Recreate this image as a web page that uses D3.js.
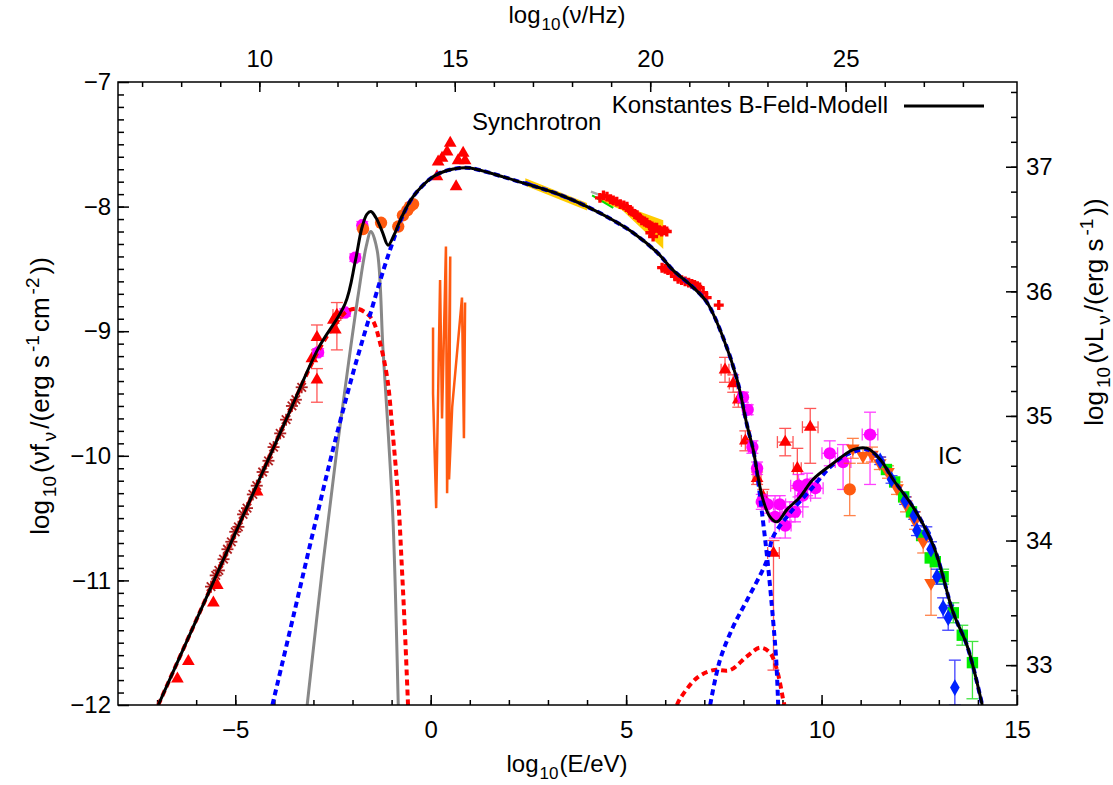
<!DOCTYPE html>
<html>
<head>
<meta charset="utf-8">
<script src="https://cdn.jsdelivr.net/npm/d3@7"></script>
<style>
  body { margin: 0; background: #fff; }
  svg { font-family: "Liberation Sans", Arial, sans-serif; }
</style>
</head>
<body>
<svg id="chart" width="1113" height="785"></svg>
<script>
// ---- Achsen ----
const xMajor = [-5, 0, 5, 10, 15];          // log10(E/eV)
const yMajor = [-7, -8, -9, -10, -11, -12]; // log10(nu f_nu)
const nuMajor = [10, 15, 20, 25];           // log10(nu/Hz)
const lumMajor = [33, 34, 35, 36, 37];      // log10(nu L_nu)
const nuOffset = 14.384;   // log10(Hz pro eV)
const lumOffset = 44.68;   // log10(4 pi d^2)

// ---- Modellkurven [logE, logF] ----
const totalModel = [
  [-6.97,-12.0],[-5.90,-11.25],[-4.54,-10.30],[-3.60,-9.64],[-2.88,-9.14],[-2.19,-8.78],
  [-1.93,-8.44],[-1.76,-8.17],[-1.63,-8.06],[-1.53,-8.04],[-1.40,-8.09],[-1.24,-8.20],
  [-1.09,-8.31],[-0.94,-8.23],[-0.78,-8.11],[-0.45,-7.92],[0.06,-7.76],[0.42,-7.71],
  [0.75,-7.69],[1.01,-7.69],[1.52,-7.73],[2.36,-7.81],[3.18,-7.89],[4.00,-8.00],
  [4.67,-8.11],[5.18,-8.21],[5.80,-8.37],[6.20,-8.51],[6.72,-8.65],[7.07,-8.77],
  [7.48,-9.05],[7.84,-9.39],[8.09,-9.75],[8.25,-9.95],[8.38,-10.18],[8.50,-10.35],
  [8.68,-10.49],[8.86,-10.53],[9.12,-10.43],[9.45,-10.33],[9.78,-10.19],[10.30,-10.06],
  [10.81,-9.95],[11.17,-9.94],[11.50,-10.03],[11.83,-10.19],[12.34,-10.41],[12.86,-10.72],
  [13.37,-11.26],[13.73,-11.53],[14.11,-12.0]
];
const synchModel = [
  [-4.05,-12.0],[-3.50,-11.27],[-3.00,-10.60],[-2.50,-9.95],[-2.00,-9.35],[-1.60,-8.92],
  [-1.20,-8.50],[-0.90,-8.22],[-0.78,-8.12],[-0.45,-7.92],[0.06,-7.76],[0.42,-7.71],
  [0.75,-7.69],[1.01,-7.69],[1.52,-7.73],[2.36,-7.81],[3.18,-7.89],[4.00,-8.00],
  [4.67,-8.11],[5.18,-8.21],[5.80,-8.37],[6.20,-8.51],[6.72,-8.65],[7.07,-8.77],
  [7.48,-9.05],[7.84,-9.39],[8.09,-9.75],[8.25,-9.95],[8.35,-10.14],[8.50,-10.52],
  [8.63,-10.88],[8.76,-11.32],[8.84,-11.64],[8.89,-12.0]
];
const icModel = [
  [7.15,-12.0],[7.40,-11.64],[7.74,-11.37],[8.09,-11.16],[8.60,-10.84],[8.76,-10.65],
  [9.19,-10.46],[9.78,-10.25],[10.22,-10.09],[10.65,-9.99],[11.17,-9.95],[11.50,-10.03],
  [11.83,-10.19],[12.34,-10.41],[12.86,-10.72],[13.37,-11.26],[13.73,-11.53],[14.11,-12.0]
];
const relicSynch = [
  [-6.97,-12.0],[-5.90,-11.25],[-4.54,-10.30],[-3.60,-9.64],[-2.88,-9.16],[-2.50,-8.97],
  [-2.14,-8.84],[-1.88,-8.82],[-1.63,-8.86],[-1.47,-8.92],[-1.29,-9.10],[-1.11,-9.38],
  [-0.98,-9.79],[-0.83,-10.35],[-0.74,-10.88],[-0.66,-11.40],[-0.58,-12.0]
];
const relicIC = [
  [6.30,-12.0],[6.38,-11.95],[6.82,-11.78],[7.23,-11.72],[7.66,-11.72],[8.09,-11.61],
  [8.43,-11.54],[8.68,-11.58],[8.86,-11.72],[9.02,-11.96],[9.05,-12.0]
];
const dustBump = [
  [-3.16,-12.0],[-2.75,-10.85],[-2.40,-9.95],[-2.10,-9.25],[-1.85,-8.70],[-1.65,-8.32],
  [-1.53,-8.20],[-1.37,-8.35],[-1.22,-9.15],[-1.08,-9.85],[-0.96,-10.55],[-0.83,-12.0]
];
const uvJagged = [
  [0.06,-8.97],[0.06,-9.50],[0.14,-10.42],[0.24,-8.59],[0.29,-9.70],[0.39,-8.32],
  [0.42,-10.30],[0.50,-8.40],[0.47,-10.19],[0.55,-9.61],[0.80,-8.73],[0.85,-9.86],[0.88,-8.77]
];

// ---- Fehlerbänder (Röntgen) ----
const xrayBand1 = [[2.42,-7.772],[4.00,-7.972],[4.00,-8.032],[2.42,-7.832]];
const xrayLine1 = [[2.42,-7.80],[4.00,-8.00]];
const xrayBand2 = [[4.30,-7.93],[4.90,-7.99],[5.95,-8.11],[5.95,-8.34],[4.90,-8.03],[4.30,-7.95]];
const xrayGreen = [[4.13,-7.91],[4.67,-8.01]];
const xrayGray = [[4.10,-7.88],[4.35,-7.91]];

// ---- Messpunkte [logE, logF, dyLo, dyHi, dx] ----
const radioStars = [
  [-5.62,-11.05],[-5.50,-10.96],[-5.42,-10.92],[-5.30,-10.83],[-5.20,-10.75],[-5.10,-10.69],
  [-5.00,-10.61],[-4.92,-10.57],[-4.80,-10.47],[-4.70,-10.42],[-4.55,-10.31],[-4.45,-10.24],
  [-4.30,-10.13],[-4.15,-10.04],[-4.02,-9.93],[-3.85,-9.82],[-3.70,-9.71],[-3.55,-9.60],
  [-3.45,-9.55],[-3.30,-9.45]
];
const redTriangles = [
  [-6.48,-11.79,0,0,0],[-6.20,-11.65,0,0,0],[-5.56,-11.18,0,0,0],[-5.46,-11.04,0,0,0],
  [-4.44,-10.29,0,0,0],[-3.04,-9.22,0,0,0],[-2.91,-9.05,0.10,0.10,0],[-2.91,-9.39,0.18,0.09,0],
  [-2.49,-8.91,0,0,0],[-2.40,-8.87,0.28,0.10,0.1],[-2.44,-8.99,0,0,0],
  [0.50,-7.49,0,0,0],[0.42,-7.56,0,0,0],[0.29,-7.61,0,0,0],[0.19,-7.64,0,0,0],[0.16,-7.76,0,0,0],
  [0.83,-7.57,0,0,0],[0.88,-7.63,0,0,0],[0.70,-7.63,0,0,0],[0.65,-7.84,0,0,0],
  [7.53,-9.31,0.10,0.10,0.1],[7.74,-9.42,0.07,0.07,0.1],[7.87,-9.55,0.06,0.06,0.1],
  [8.05,-9.88,0.08,0.08,0.1],[8.35,-10.18,0.05,0.05,0.1],[8.51,-10.33,0.06,0.06,0.1],
  [8.77,-10.78,0.94,0.10,0.15],[9.07,-9.89,0.11,0.11,0.2],[9.71,-9.77,0.29,0.15,0.2],
  [9.38,-10.10,0.16,0.16,0.1]
];
const xrayCrosses = [
  [4.33,-7.93],[4.42,-7.91],[4.51,-7.92],[4.60,-7.94],[4.67,-7.95],[4.76,-7.96],[4.85,-7.98],
  [4.94,-7.99],[5.02,-8.00],[5.09,-8.03],[5.15,-8.04],[5.22,-8.06],[5.28,-8.07],[5.34,-8.09],
  [5.40,-8.11],[5.47,-8.12],[5.53,-8.13],[5.60,-8.15],[5.66,-8.16],[5.72,-8.17],[5.78,-8.17],
  [5.85,-8.19],[5.91,-8.20],[5.98,-8.19],[6.04,-8.20],[5.69,-8.24],[5.62,-8.21],
  [5.92,-8.49],[6.00,-8.50],[6.07,-8.51],[6.16,-8.53],[6.25,-8.56],[6.33,-8.58],[6.42,-8.59],
  [6.51,-8.60],[6.60,-8.61],[6.68,-8.62],[6.75,-8.63],[6.82,-8.64],[6.88,-8.65],[6.97,-8.69],
  [7.06,-8.73],[7.37,-8.79]
];
const magentaCircles = [
  [-2.88,-9.17,0.03,0.03,0.05],[-2.19,-8.85,0.03,0.03,0.05],[-1.93,-8.41,0.03,0.03,0.05],
  [-1.75,-8.15,0.03,0.03,0.05],
  [7.99,-9.53,0.04,0.04,0.1],[8.11,-9.63,0.04,0.04,0.1],[8.23,-9.93,0.05,0.05,0.1],
  [8.35,-10.10,0.05,0.05,0.1],[8.47,-10.37,0.06,0.06,0.1],[8.62,-10.39,0.07,0.07,0.15],
  [8.81,-10.49,0.17,0.17,0.15],[8.93,-10.39,0.07,0.07,0.15],[9.07,-10.56,0.10,0.10,0.15],
  [9.19,-10.45,0.08,0.08,0.2],[9.32,-10.45,0.08,0.08,0.2],[9.41,-10.24,0.09,0.09,0.2],
  [9.52,-10.32,0.09,0.09,0.2],[9.63,-10.23,0.09,0.09,0.2],[9.84,-10.26,0.08,0.08,0.2],
  [10.21,-9.98,0.10,0.10,0.2],[10.55,-10.05,0.22,0.14,0.2],[11.24,-9.83,0.40,0.18,0.2]
];
const orangeCircles = [
  [-1.73,-8.18,0,0,0],[-1.27,-8.13,0,0,0],[-0.83,-8.16,0,0,0],[-0.71,-8.07,0,0,0],
  [-0.60,-8.03,0,0,0],[-0.53,-8.00,0,0,0],[-0.45,-7.98,0,0,0],[10.72,-10.27,0.21,0.21,0]
];
const orangeDown = [
  [10.80,-9.94,0.08,0.08,0],[11.06,-10.00,0.06,0.06,0],[11.29,-9.99,0.06,0.06,0],
  [11.49,-10.06,0.05,0.05,0],[11.70,-10.13,0.05,0.05,0],[11.93,-10.26,0.05,0.05,0],
  [12.16,-10.39,0.06,0.06,0],[12.39,-10.52,0.07,0.07,0],[12.60,-10.69,0.09,0.09,0],
  [12.80,-11.02,0.26,0.20,0]
];
const greenSquares = [
  [11.66,-10.11,0,0,0],[11.87,-10.21,0,0,0],[12.10,-10.33,0,0,0],[12.30,-10.45,0,0,0],
  [12.56,-10.64,0,0,0],[12.78,-10.82,0,0,0],[12.91,-10.85,0,0,0],[13.11,-10.97,0.06,0.06,0],
  [13.37,-11.26,0.08,0.08,0],[13.60,-11.44,0.08,0.08,0],[13.86,-11.66,0.29,0.17,0]
];
const blueDiamonds = [
  [11.50,-10.04,0.03,0.03,0],[11.79,-10.19,0.03,0.03,0],[12.14,-10.36,0.03,0.03,0],
  [12.37,-10.48,0.03,0.03,0],[12.44,-10.60,0.04,0.04,0],[12.68,-10.62,0.05,0.05,0],
  [12.80,-10.75,0.06,0.06,0],[12.95,-10.97,0.06,0.06,0],[13.11,-11.22,0.08,0.08,0],
  [13.24,-11.30,0.10,0.10,0],[13.41,-11.86,0.14,0.22,0]
];

// ---- Layout ----
const L = 118, R = 1017, T = 82, B = 705;
const FS = 24, FS_SMALL = 17;
const svg = d3.select('#chart');
const x = d3.scaleLinear().domain([-8, 15]).range([L, R]);
const y = d3.scaleLinear().domain([-12, -7]).range([B, T]);
const xNu = d3.scaleLinear().domain([-8 + nuOffset, 15 + nuOffset]).range([L, R]);
const yLum = d3.scaleLinear().domain([-12 + lumOffset, -7 + lumOffset]).range([B, T]);

svg.append('defs').append('clipPath').attr('id', 'plot')
  .append('rect').attr('x', L).attr('y', T).attr('width', R - L).attr('height', B - T);

function styleAxis(g) {
  g.attr('font-size', FS).attr('font-family', '"Liberation Sans", Arial, sans-serif');
  g.select('.domain').remove();
  g.selectAll('line').attr('stroke', '#000').attr('stroke-width', 1.5);
}
const inRange = (s) => (v) => v >= s.domain()[0] - 1e-9 && v <= s.domain()[1] + 1e-9;

// Nebenstriche
svg.append('g').attr('transform', `translate(0,${B})`)
  .call(d3.axisBottom(x).tickValues(d3.range(-7, 15, 1)).tickSize(-5).tickFormat('')).call(styleAxis);
svg.append('g').attr('transform', `translate(0,${T})`)
  .call(d3.axisTop(xNu).tickValues(d3.range(7, 29, 1).filter(inRange(xNu))).tickSize(-5).tickFormat('')).call(styleAxis);
svg.append('g').attr('transform', `translate(${L},0)`)
  .call(d3.axisLeft(y).tickValues(d3.range(-11.9, -7, 0.1)).tickSize(-6).tickFormat('')).call(styleAxis);
svg.append('g').attr('transform', `translate(${R},0)`)
  .call(d3.axisRight(yLum).tickValues(d3.range(32.8, 37.7, 0.2).filter(inRange(yLum))).tickSize(-6).tickFormat('')).call(styleAxis);

// Hauptstriche mit Beschriftung
svg.append('g').attr('transform', `translate(0,${B})`)
  .call(d3.axisBottom(x).tickValues(xMajor).tickSize(-10).tickPadding(16).tickFormat(d3.format('d'))).call(styleAxis);
svg.append('g').attr('transform', `translate(0,${T})`)
  .call(d3.axisTop(xNu).tickValues(nuMajor).tickSize(-10).tickPadding(15).tickFormat(d3.format('d'))).call(styleAxis);
svg.append('g').attr('transform', `translate(${L},0)`)
  .call(d3.axisLeft(y).tickValues(yMajor).tickSize(-11).tickPadding(7).tickFormat(d3.format('d'))).call(styleAxis);
svg.append('g').attr('transform', `translate(${R},0)`)
  .call(d3.axisRight(yLum).tickValues(lumMajor).tickSize(-11).tickPadding(9).tickFormat(d3.format('d'))).call(styleAxis);
svg.selectAll('.tick text').attr('fill', '#000');

// Achsentitel
function label(parent, parts, attrs, size, gap) {
  const small = Math.round(size * 0.72);
  const t = parent.append('text').attr('font-size', size).attr('fill', '#000');
  Object.entries(attrs).forEach(([k, v]) => t.attr(k, v));
  let shift = 0;
  parts.forEach(([s, kind], i) => {
    const want = kind === 'sub' ? 7 : kind === 'sup' ? -10 : 0;
    t.append('tspan').attr('dy', want - shift).attr('dx', i > 0 ? gap : 0)
      .attr('font-size', kind ? small : size).text(s);
    shift = want;
  });
  return t;
}
label(svg, [['log'], ['10', 'sub'], ['(E/eV)']], { x: 567, y: 772, 'text-anchor': 'middle' }, FS, 1);
label(svg, [['log'], ['10', 'sub'], ['(\u03bd/Hz)']], { x: 567, y: 23, 'text-anchor': 'middle' }, FS, 1);
label(svg.append('g').attr('transform', 'translate(49,396) rotate(-90)'),
  [['log'], ['10', 'sub'], ['(\u03bdf'], ['\u03bd', 'sub'], ['/(erg s'], ['-1', 'sup'], ['cm'], ['-2', 'sup'], ['))']],
  { x: 0, y: 0, 'text-anchor': 'middle' }, 26, 3);
label(svg.append('g').attr('transform', 'translate(1103,312) rotate(-90)'),
  [['log'], ['10', 'sub'], ['(\u03bdL'], ['\u03bd', 'sub'], ['/(erg s'], ['-1', 'sup'], ['))']],
  { x: 0, y: 0, 'text-anchor': 'middle' }, 26, 3);

// ---- Zeichenfläche ----
const plot = svg.append('g').attr('clip-path', 'url(#plot)');
const line = d3.line().x((d) => x(d[0])).y((d) => y(d[1])).curve(d3.curveCatmullRom.alpha(0.5));
const straight = d3.line().x((d) => x(d[0])).y((d) => y(d[1]));

// Röntgen-Bänder
plot.append('path').datum(xrayBand1).attr('d', straight).attr('fill', '#ffcc00');
plot.append('path').datum(xrayBand2).attr('fill', '#ffcc00').attr('d', straight);
plot.append('path').datum(xrayLine1).attr('d', straight).attr('stroke', '#0000ff').attr('stroke-width', 2).attr('fill', 'none');
plot.append('path').datum(xrayGray).attr('d', straight).attr('stroke', '#aaaaaa').attr('stroke-width', 2.5).attr('fill', 'none');
plot.append('path').datum(xrayGreen).attr('d', straight).attr('stroke', '#00dd00').attr('stroke-width', 2).attr('fill', 'none');

// UV-Linienzug
plot.append('path').datum(uvJagged).attr('d', straight).attr('fill', 'none')
  .attr('stroke', '#ff5a10').attr('stroke-width', 2.5);

// Fehlerbalken
function errorBars(data, color, cap) {
  const g = plot.append('g').attr('stroke', color).attr('stroke-width', 1.3).attr('opacity', 0.75);
  data.filter((d) => d[2] || d[3]).forEach((d) => {
    const cx = x(d[0]), y0 = y(d[1] - d[2]), y1 = y(d[1] + d[3]);
    g.append('line').attr('x1', cx).attr('x2', cx).attr('y1', y0).attr('y2', y1);
    g.append('line').attr('x1', cx - cap).attr('x2', cx + cap).attr('y1', y0).attr('y2', y0);
    g.append('line').attr('x1', cx - cap).attr('x2', cx + cap).attr('y1', y1).attr('y2', y1);
  });
  data.filter((d) => d[4]).forEach((d) => {
    const cy = y(d[1]), x0 = x(d[0] - d[4]), x1 = x(d[0] + d[4]);
    g.append('line').attr('x1', x0).attr('x2', x1).attr('y1', cy).attr('y2', cy);
    g.append('line').attr('x1', x0).attr('x2', x0).attr('y1', cy - cap).attr('y2', cy + cap);
    g.append('line').attr('x1', x1).attr('x2', x1).attr('y1', cy - cap).attr('y2', cy + cap);
  });
}
function symbols(data, type, size, color, rot) {
  plot.append('g').selectAll('path').data(data).join('path')
    .attr('transform', (d) => `translate(${x(d[0])},${y(d[1])})${rot ? ` rotate(${rot})` : ''}`)
    .attr('d', d3.symbol().type(type).size(size)).attr('fill', color);
}

// Radiopunkte (Sterne)
plot.append('g').selectAll('g').data(radioStars).join('g')
  .attr('transform', (d) => `translate(${x(d[0])},${y(d[1])})`)
  .each(function () {
    const g = d3.select(this);
    [0, 45, 90, 135].forEach((a) => g.append('line').attr('x1', -6).attr('x2', 6)
      .attr('transform', `rotate(${a})`).attr('stroke', '#b22222').attr('stroke-width', 1.8));
  });

errorBars(redTriangles, '#ff2020', 6);
symbols(redTriangles, d3.symbolTriangle, 70, '#ff0000');
symbols(xrayCrosses, d3.symbolCross, 55, '#ff0000');
errorBars(magentaCircles, '#ff00ff', 6);
symbols(magentaCircles, d3.symbolCircle, 120, '#ff00ff');
errorBars(orangeCircles, '#ff5a10', 6);
symbols(orangeCircles, d3.symbolCircle, 120, '#ff5a10');
errorBars(orangeDown, '#ff5a10', 6);
errorBars(greenSquares, '#00dd00', 6);
errorBars(blueDiamonds, '#0000ff', 6);
symbols(greenSquares, d3.symbolSquare, 130, '#00ee00');
symbols(orangeDown, d3.symbolTriangle, 80, '#ff5a10', 180);
symbols(blueDiamonds, d3.symbolDiamond, 80, '#0022ff');

// Modellkurven
function curve(data, color, width, dash) {
  plot.append('path').datum(data).attr('d', line).attr('fill', 'none')
    .attr('stroke', color).attr('stroke-width', width).attr('stroke-dasharray', dash || null);
}
curve(dustBump, '#888888', 3);
curve(relicSynch, '#ff0000', 4, '6,4');
curve(relicIC, '#ff0000', 4, '6,4');
curve(synchModel, '#0000ff', 4, '6,4');
curve(icModel, '#0000ff', 4, '6,4');
curve(totalModel, '#000000', 3);

// Rahmen
svg.append('rect').attr('x', L).attr('y', T).attr('width', R - L).attr('height', B - T)
  .attr('fill', 'none').attr('stroke', '#000').attr('stroke-width', 1.5);

// Beschriftungen und Legende
svg.append('text').attr('x', 472).attr('y', 130).attr('font-size', FS).text('Synchrotron');
svg.append('text').attr('x', 938).attr('y', 464).attr('font-size', FS).text('IC');
svg.append('text').attr('x', 888).attr('y', 113).attr('font-size', FS).attr('text-anchor', 'end')
  .text('Konstantes B-Feld-Modell');
svg.append('line').attr('x1', 904).attr('x2', 984).attr('y1', 106).attr('y2', 106)
  .attr('stroke', '#000').attr('stroke-width', 3);
</script>
</body>
</html>
